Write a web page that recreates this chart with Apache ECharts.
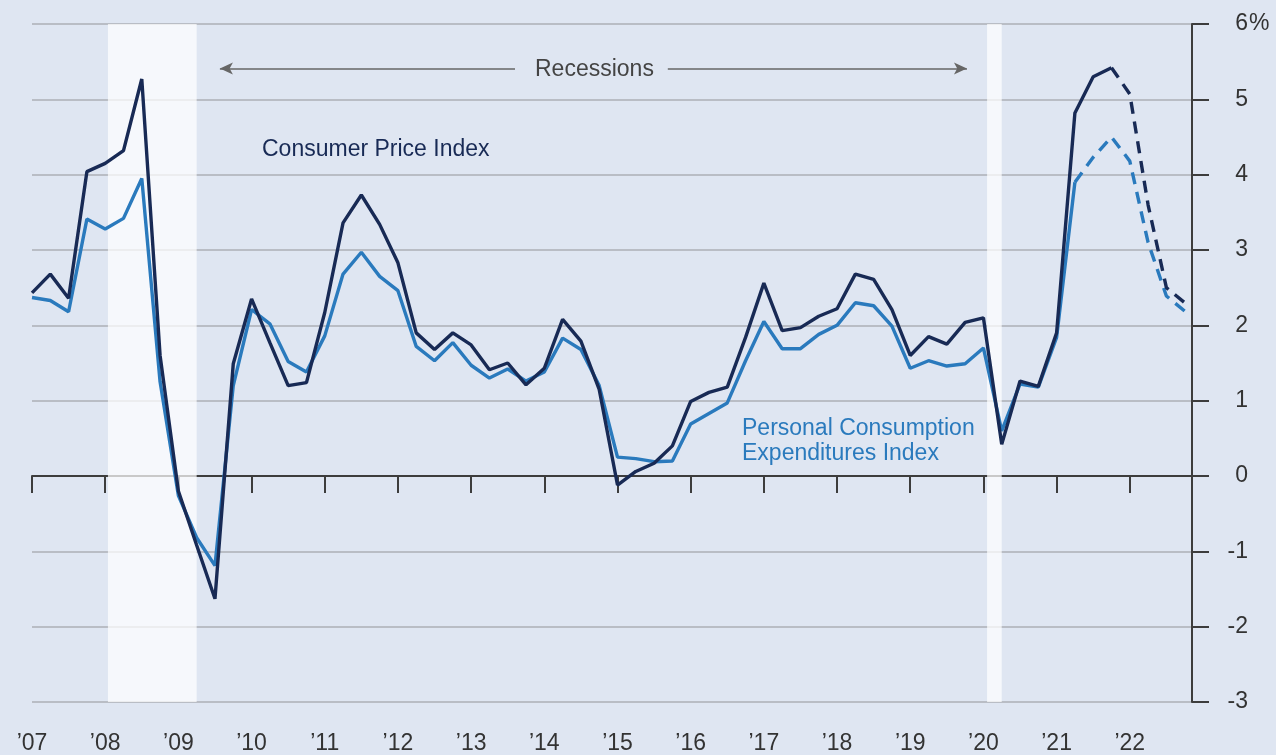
<!DOCTYPE html>
<html>
<head>
<meta charset="utf-8">
<script src="https://cdn.jsdelivr.net/npm/echarts@6/dist/echarts.min.js"></script>
<style>
  html, body { margin: 0; padding: 0; background: #dfe6f2; }
  #chart { width: 1276px; height: 755px; }
</style>
</head>
<body>
<div id="chart"></div>
<script>
// quarterly, index 0 = 2007 Q1 ... 63 = 2022 Q4
const cpi = [
  2.43, 2.68, 2.36, 4.04, 4.15, 4.32, 5.27,
  1.6, -0.2, -0.92, -1.63, 1.49,
  2.35, 1.77, 1.2, 1.24, 2.17, 3.36, 3.73, 3.34, 2.83, 1.9, 1.68, 1.9,
  1.74, 1.41, 1.5, 1.21, 1.43, 2.08, 1.79, 1.15, -0.12, 0.06, 0.17, 0.4,
  0.99, 1.11, 1.18, 1.84, 2.56, 1.93, 1.97, 2.12, 2.22, 2.68, 2.61, 2.21,
  1.6, 1.85, 1.75, 2.04, 2.1, 0.42, 1.26, 1.19, 1.9, 4.82, 5.3, 5.42,
  5.07, 3.6, 2.5, 2.3
];
const pce = [
  2.37, 2.33, 2.18, 3.41, 3.28, 3.42, 3.95,
  1.25, -0.26, -0.82, -1.19, 1.2,
  2.21, 2.02, 1.52, 1.38, 1.86, 2.68, 2.97, 2.65, 2.46, 1.72, 1.53, 1.77,
  1.47, 1.3, 1.42, 1.26, 1.38, 1.83, 1.68, 1.2, 0.25, 0.23, 0.19, 0.2,
  0.69, 0.83, 0.97, 1.53, 2.05, 1.69, 1.69, 1.88, 2.0, 2.3, 2.26, 1.99,
  1.43, 1.53, 1.46, 1.49, 1.7, 0.6, 1.22, 1.18, 1.84, 3.9, 4.23, 4.5,
  4.18, 3.1, 2.39, 2.19
];
// first projected quarter (dashed from here on)
const cpiDashFrom = 59;
const pceDashFrom = 57;

const tickLabels = ['’07', '’08', '’09', '’10', '’11', '’12', '’13', '’14',
  '’15', '’16', '’17', '’18', '’19', '’20', '’21', '’22'];

// recession spans in quarter-index units
const recessions = [[4.15, 9.0], [52.2, 53.0]];

const FONT = '"Liberation Sans", Arial, sans-serif';
const navy = '#182a55';
const blue = '#2a7abd';

const solid = (arr, from) => arr.map((v, i) => [i, i <= from ? v : null]);
const dashed = (arr, from) => arr.map((v, i) => [i, i >= from ? v : null]);

const chart = echarts.init(document.getElementById('chart'));

const option = {
  animation: false,
  backgroundColor: '#dfe6f2',
  grid: { left: 32, right: 84, top: 24, bottom: 52 },
  xAxis: [
    {
      type: 'value', min: 0, max: 63.4, interval: 4,
      axisLine: { onZero: true, lineStyle: { color: '#3d3d3d', width: 2 } },
      axisTick: { show: true, length: 17, lineStyle: { color: '#3d3d3d', width: 2 } },
      axisLabel: { show: false },
      splitLine: { show: false }
    },
    {
      type: 'value', min: 0, max: 63.4, interval: 4, position: 'bottom',
      axisLine: { show: false, onZero: false },
      axisTick: { show: false },
      splitLine: { show: false },
      axisLabel: {
        margin: 30, fontSize: 23, color: '#333', fontFamily: FONT,
        formatter: v => tickLabels[v / 4] || ''
      }
    }
  ],
  yAxis: {
    type: 'value', position: 'right', min: -3, max: 6, interval: 1,
    axisLine: { show: true, onZero: false, lineStyle: { color: '#3d3d3d', width: 2 } },
    axisTick: { show: true, length: 17, lineStyle: { color: '#3d3d3d', width: 2 } },
    splitLine: { lineStyle: { color: '#b9bdc5', width: 2 } },
    axisLabel: {
      align: 'right', margin: 56, fontSize: 23, color: '#333', fontFamily: FONT
    }
  },
  graphic: [
    { type: 'text', left: 1249, top: 12,
      style: { text: '%', fontSize: 23, fill: '#333', fontFamily: FONT } },
    { type: 'text', left: 535, top: 58,
      style: { text: 'Recessions', fontSize: 23, fill: '#444', fontFamily: FONT } },
    { type: 'text', left: 262, top: 138,
      style: { text: 'Consumer Price Index', fontSize: 23, fill: navy, fontFamily: FONT } },
    { type: 'text', left: 742, top: 416,
      style: { text: 'Personal Consumption\nExpenditures Index', fontSize: 23,
               lineHeight: 25, fill: blue, fontFamily: FONT } }
  ],
  series: [
    {
      type: 'line', data: [], silent: true,
      markArea: {
        silent: true,
        itemStyle: { color: 'rgba(255,255,255,0.72)' },
        data: recessions.map(r => [{ xAxis: r[0] }, { xAxis: r[1] }])
      },
      markLine: {
        silent: true,
        symbolSize: [9, 13],
        label: { show: false },
        lineStyle: { color: '#666', width: 1.5, type: 'solid' },
        data: [
          [{ coord: [10.27, 5.41], symbol: 'arrow' }, { coord: [26.4, 5.41], symbol: 'none' }],
          [{ coord: [34.75, 5.41], symbol: 'none' }, { coord: [51.1, 5.41], symbol: 'arrow' }]
        ]
      }
    },
    {
      name: 'PCE', type: 'line', data: solid(pce, pceDashFrom),
      showSymbol: false, connectNulls: false,
      lineStyle: { color: blue, width: 3.4 }
    },
    {
      name: 'PCE projected', type: 'line', data: dashed(pce, pceDashFrom),
      showSymbol: false,
      lineStyle: { color: blue, width: 3.4, type: [12, 8] }
    },
    {
      name: 'CPI', type: 'line', data: solid(cpi, cpiDashFrom),
      showSymbol: false,
      lineStyle: { color: navy, width: 3.4 }
    },
    {
      name: 'CPI projected', type: 'line', data: dashed(cpi, cpiDashFrom),
      showSymbol: false,
      lineStyle: { color: navy, width: 3.4, type: [12, 8] }
    }
  ]
};

chart.setOption(option);
</script>
</body>
</html>
